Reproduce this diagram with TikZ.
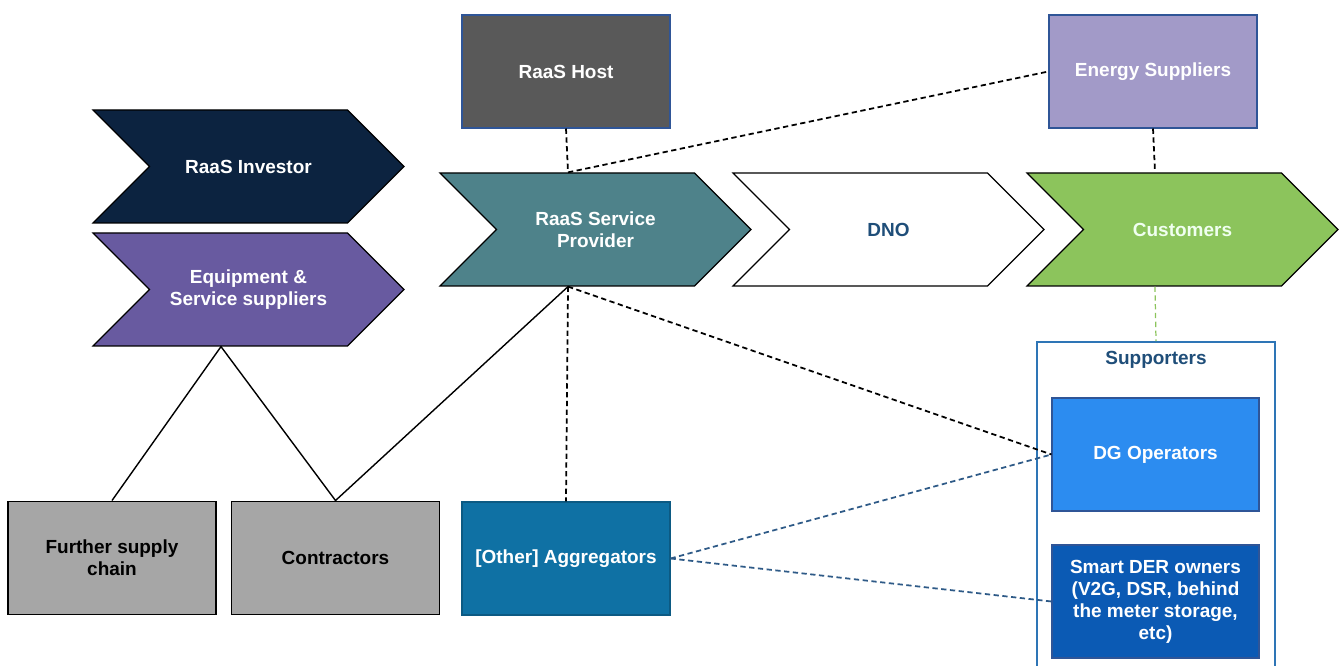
\documentclass[tikz,border=0pt]{standalone}
\usepackage{fontspec}
\setsansfont{Liberation Sans}
\usepackage{xcolor}
\usetikzlibrary{shapes.symbols}

\definecolor{navy}{HTML}{0C2340}
\definecolor{eqpurple}{HTML}{685AA0}
\definecolor{spteal}{HTML}{4E828A}
\definecolor{custgreen}{HTML}{8CC45C}
\definecolor{hostgray}{HTML}{595959}
\definecolor{esuplav}{HTML}{A29AC8}
\definecolor{frameblue}{HTML}{2F5597}
\definecolor{suppblue}{HTML}{2E75B6}
\definecolor{darktext}{HTML}{1F4E79}
\definecolor{dgblue}{HTML}{2C8CF0}
\definecolor{derblue}{HTML}{0B5AB4}
\definecolor{aggrblue}{HTML}{0F71A4}
\definecolor{boxgray}{HTML}{A6A6A6}
\definecolor{linkblue}{HTML}{2E5A87}

\begin{document}
\begin{tikzpicture}[
    every node/.style={font=\sffamily\bfseries\fontsize{10.8}{12.5}\selectfont, align=center},
    chev/.style={signal, signal from=west, signal to=east, signal pointer angle=90,
        draw=black, line width=0.7pt, minimum width=6.22cm, minimum height=2.26cm, inner sep=0pt, text=white},
    blk/.style={rectangle, minimum width=4.16cm, minimum height=2.26cm, text=white},
    gbox/.style={blk, fill=boxgray, draw=black, line width=1.1pt, text=black},
    link/.style={line width=0.8pt},
    dlink/.style={line width=1pt, dash pattern=on 3pt off 2pt},
]
    \useasboundingbox (0,0) rectangle (26.82,13.32);
    % Value chain
    \node[chev, fill=navy] (inv) at (4.97, 9.99) {RaaS Investor};
    \node[chev, fill=eqpurple] (eqp) at (4.97, 7.53) {Equipment \&\\Service suppliers};
    \node[chev, fill=spteal] (sp) at (11.91, 8.73) {RaaS Service\\Provider};
    \node[chev, fill=white, text=darktext] (dno) at (17.77, 8.73) {DNO};
    \node[chev, fill=custgreen, text=white!94!green] (cust) at (23.65, 8.73) {Customers};
    % Top boxes
    \node[blk, fill=hostgray, draw=frameblue, line width=0.6pt] (host) at (11.32, 11.89) {RaaS Host};
    \node[blk, fill=esuplav, draw=frameblue, line width=0.6pt] (esup) at (23.06, 11.89) {Energy Suppliers};
    % Bottom boxes
    \node[gbox] (fsc) at (2.24, 2.16) {Further supply\\chain};
    \node[gbox] (contr) at (6.71, 2.16) {Contractors};
    \node[blk, fill=aggrblue, draw=aggrblue!80!black, line width=0.6pt] (aggr) at (11.32, 2.15) {[Other] Aggregators};
    % Supporters
    \node[draw=suppblue, line width=0.9pt, minimum width=4.76cm, minimum height=6.78cm] (supp) at (23.12, 3.09) {};
    \node[text=darktext] (supt) at (23.12, 6.12) {Supporters};
    \node[blk, minimum width=4.14cm, fill=dgblue, draw=frameblue, line width=0.6pt] (dg) at (23.11, 4.23) {DG Operators};
    \node[blk, minimum width=4.14cm, fill=derblue, draw=frameblue, line width=0.6pt] (der) at (23.11, 1.29) {Smart DER owners\\(V2G, DSR, behind\\the meter storage,\\etc)};
    % Solid links
    \draw[link] (fsc.north) -- ([xshift=-0.55cm]eqp.south) -- (contr.north) -- ([xshift=-0.55cm]sp.south);
    % Dashed links
    \draw[dlink] (host.south) -- ([xshift=-0.55cm]sp.north);
    \draw[dlink] ([xshift=-0.55cm]sp.north) -- (esup.west);
    \draw[dlink] (esup.south) -- ([xshift=-0.55cm]cust.north);
    \draw[dlink] ([xshift=-0.55cm]sp.south) -- (aggr.north);
    \draw[dlink] ([xshift=-0.55cm]sp.south) -- (dg.west);
    \draw[dlink, custgreen, line width=0.7pt] ([xshift=-0.55cm]cust.south) -- (supp.north);
    \draw[dlink, linkblue] (aggr.east) -- (dg.west);
    \draw[dlink, linkblue] (aggr.east) -- (der.west);
\end{tikzpicture}
\end{document}
